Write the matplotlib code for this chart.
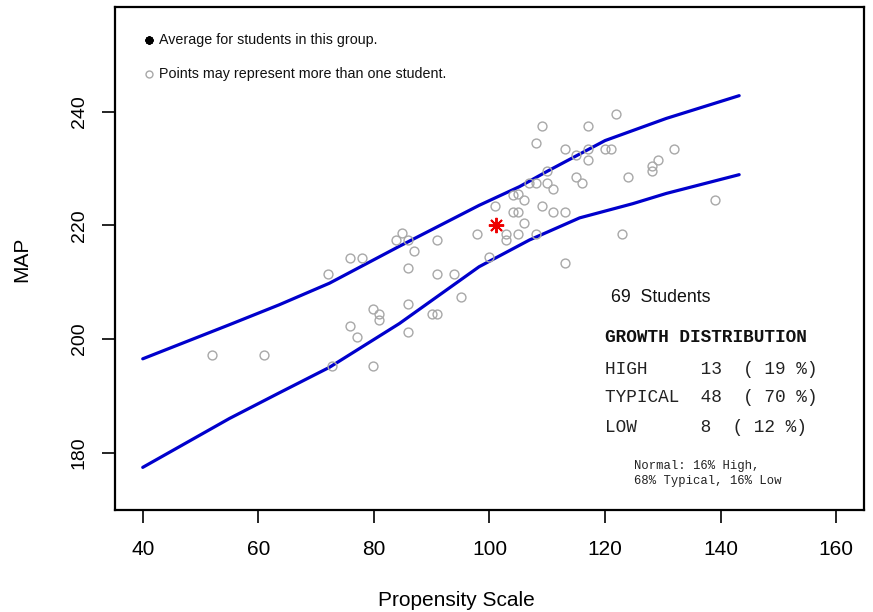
import matplotlib
matplotlib.use("Agg")
import matplotlib.pyplot as plt

plt.rcParams['font.family'] = ['Liberation Sans', 'DejaVu Sans']

# ---- data ----
pts_x = [51.9, 60.9, 72.0, 75.9, 77.9, 84.9, 83.9, 85.9, 87.0, 91.0, 85.9, 91.0, 93.9,
         97.9, 100.9, 100.0, 102.9, 102.9, 104.0, 104.0, 104.9, 95.0, 85.9, 79.9, 80.9,
         80.9, 90.0, 91.0, 75.9, 77.0, 85.9, 72.8, 79.9,
         109.0, 117.0, 121.9, 108.0, 113.1, 117.0, 119.9, 121.0, 132.0, 115.0, 117.0,
         129.1, 128.1, 128.1, 110.0, 106.9, 108.0, 110.0, 111.0, 115.0, 116.0, 124.0,
         105.0, 106.0, 109.0, 105.0, 111.0, 113.0, 106.0, 123.0, 108.0, 113.1, 139.0]
pts_y = [197.2, 197.2, 211.4, 214.3, 214.3, 218.6, 217.4, 217.4, 215.4, 217.4, 212.4, 211.4, 211.4,
         218.4, 223.4, 214.4, 218.4, 217.4, 225.3, 222.4, 218.4, 207.4, 206.2, 205.3, 204.3,
         203.3, 204.3, 204.3, 202.3, 200.3, 201.2, 195.3, 195.3,
         237.5, 237.5, 239.5, 234.5, 233.4, 233.4, 233.4, 233.4, 233.4, 232.4, 231.4,
         231.4, 230.5, 229.5, 229.5, 227.4, 227.4, 227.4, 226.4, 228.5, 227.4, 228.5,
         225.5, 224.5, 223.4, 222.4, 222.4, 222.4, 220.4, 218.4, 218.4, 213.4, 224.5]

avg_x = [101.1]
avg_y = [220.0]

upper_x = [40, 55, 63.6, 72.3, 84.4, 98.2, 105.2, 110.0, 120.0, 130.6, 143.2]
upper_y = [196.5, 202.5, 206.0, 209.8, 216.3, 223.5, 226.8, 229.5, 234.9, 238.8, 242.8]
lower_x = [40, 55, 63.6, 72.3, 84.4, 98.2, 106.9, 115.6, 124.8, 130.6, 143.2]
lower_y = [177.4, 186.0, 190.5, 195.0, 202.7, 212.7, 217.4, 221.3, 223.8, 225.6, 228.9]

x_ticks = [40, 60, 80, 100, 120, 140, 160]
y_ticks = [180, 200, 220, 240]

n_students = 69
dist_rows = ["HIGH     13  ( 19 %)",
             "TYPICAL  48  ( 70 %)",
             "LOW      8  ( 12 %)"]
normal_lines = ["Normal: 16% High,", "68% Typical, 16% Low"]

# ---- figure ----
fig = plt.figure(figsize=(8.73, 6.12), dpi=100)
ax = fig.add_axes([115/873, 1-510/612, 749/873, 503/612])

ax.plot(upper_x, upper_y, color="#0000CC", lw=2.3, solid_capstyle="round")
ax.plot(lower_x, lower_y, color="#0000CC", lw=2.3, solid_capstyle="round")
ax.plot(pts_x, pts_y, linestyle="none", marker="o", ms=6.4, mfc="none",
        mec="#A8A8A8", mew=1.0)
ax.plot(avg_x, avg_y, linestyle="none", marker=(8, 2, 0), ms=11, mec="#EE0000",
        mew=1.4, color="#EE0000")

ax.set_xlim(35.2, 164.8)
ax.set_ylim(169.9, 258.4)
ax.set_xticks(x_ticks)
ax.set_yticks(y_ticks)
ax.tick_params(axis="both", direction="out", length=9.5, width=1.2, color="black")
ax.tick_params(axis="x", labelsize=15, pad=12)
ax.tick_params(axis="y", labelsize=14, pad=10)
for lab in ax.get_yticklabels():
    lab.set_rotation(90)
    lab.set_va("center")
for sp in ax.spines.values():
    sp.set_linewidth(1.6)

ax.set_xlabel("Propensity Scale", fontsize=15, va="center")
ax.xaxis.set_label_coords((456-115)/749, (510-600)/503)
ax.set_ylabel("MAP", fontsize=15, va="center")
ax.yaxis.set_label_coords((22-115)/749, (510-259)/503)

def fx(px):
    return (px-115)/749
def fy(py):
    return (510-py)/503

# legend-like notes
ax.plot([fx(149)], [fy(40)], transform=ax.transAxes, marker=(8, 2, 0), ms=6,
        mec="black", mew=1.6, linestyle="none", clip_on=False)
ax.text(fx(159), fy(40), "Average for students in this group.", transform=ax.transAxes,
        fontsize=10.3, va="center", ha="left", color="#111111")
ax.plot([fx(149)], [fy(74)], transform=ax.transAxes, marker="o", ms=5, mfc="none",
        mec="#A8A8A8", mew=1.0, linestyle="none", clip_on=False)
ax.text(fx(159), fy(74), "Points may represent more than one student.", transform=ax.transAxes,
        fontsize=10.3, va="center", ha="left", color="#111111")

# summary box text
ax.text(fx(611), fy(297), f"{n_students}  Students", transform=ax.transAxes,
        fontsize=12.8, va="center", ha="left", color="#111111")
ax.text(fx(605), fy(338), "GROWTH DISTRIBUTION", transform=ax.transAxes,
        family="Liberation Mono", fontweight="bold", fontsize=12.8,
        va="center", ha="left", color="#111111")
for row, py in zip(dist_rows, [370, 398, 427]):
    ax.text(fx(605), fy(py), row, transform=ax.transAxes, family="Liberation Mono",
            fontsize=12.8, va="center", ha="left", color="#222222")
for line, py in zip(normal_lines, [466, 481]):
    ax.text(fx(634), fy(py), line, transform=ax.transAxes, family="Liberation Mono",
            fontsize=8.8, va="center", ha="left", color="#222222")

fig.savefig("out.png", dpi=100)
